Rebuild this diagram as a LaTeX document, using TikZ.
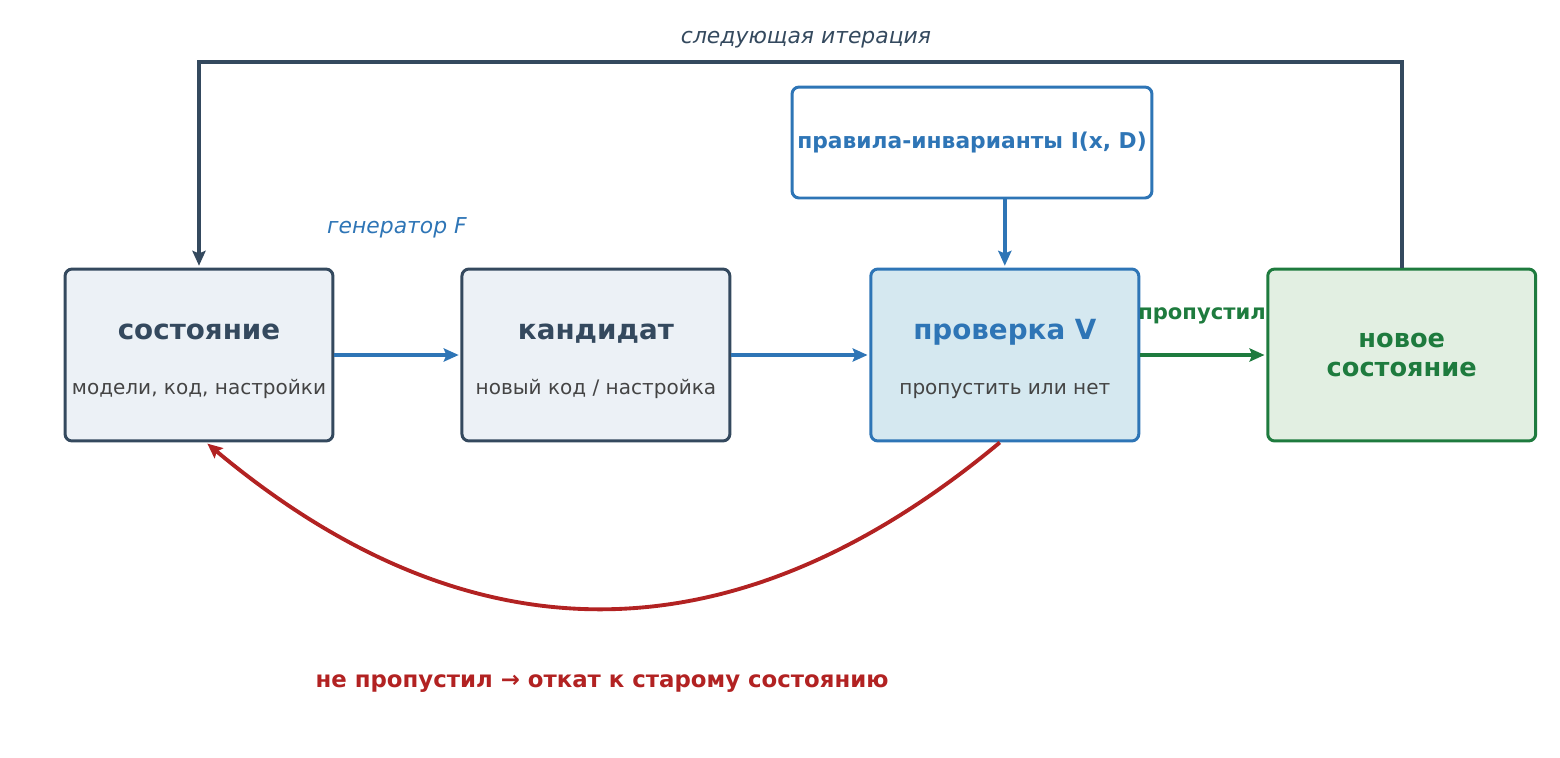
\documentclass[tikz,border=0pt]{standalone}
\usepackage{fontspec}
\setmainfont{DejaVu Sans}
\usetikzlibrary{positioning,arrows.meta}
\definecolor{slate}{HTML}{34495E}
\definecolor{steel}{HTML}{2E75B6}
\definecolor{leaf}{HTML}{1E7B3E}
\definecolor{brick}{HTML}{B22222}
\definecolor{paleslate}{HTML}{ECF1F6}
\definecolor{paleblue}{HTML}{D5E8F0}
\definecolor{palegreen}{HTML}{E2EFE2}
\definecolor{subgray}{HTML}{444444}
\newcommand\boxtext[2]{\rule{0pt}{16pt}{\bfseries\fontsize{15.8}{18}\selectfont #1}\\[19pt]{\color{subgray}\fontsize{11.4}{13}\selectfont #2}}

\begin{document}
\begin{tikzpicture}[
  x=0.02cm, y=-0.02cm,
  box/.style={draw, rounded corners=4pt, line width=1.7pt, minimum width=5.36cm, minimum height=3.44cm, align=center, inner sep=0pt},
  plain/.style={box, draw=slate, fill=paleslate, text=slate},
  check/.style={box, draw=steel, fill=paleblue, text=steel},
  fresh/.style={box, draw=leaf, fill=palegreen, text=leaf, font=\bfseries\fontsize{14.6}{16.6}\selectfont},
  rule/.style={box, draw=steel, fill=white, text=steel, minimum width=7.2cm, minimum height=2.22cm, font=\bfseries\fontsize{12.4}{14}\selectfont},
  lbl/.style={inner sep=0pt},
  arr/.style={-{Stealth[length=8.5pt, width=7.5pt, inset=1.5pt]}, line width=2pt, shorten >=1pt}
]
  \useasboundingbox (0,0) rectangle (1560,758);

  \node[plain] (state) at (199,355) {\boxtext{состояние}{модели, код, настройки}};
  \node[plain, right=2.52cm of state] (cand) {\boxtext{кандидат}{новый код / настройка}};
  \node[check, right=2.76cm of cand] (verify) {\boxtext{проверка V}{пропустить или нет}};
  \node[fresh, right=2.52cm of verify] (newstate) {новое\\состояние};
  \node[rule] (rules) at (972,142.5) {правила-инварианты I(x, D)};

  \node[lbl, text=steel, font=\itshape\fontsize{12.45}{14}\selectfont] (genlabel) at (397,228) {генератор F};
  \node[lbl, text=slate, font=\itshape\fontsize{12.45}{14}\selectfont] (iterlabel) at (806,40) {следующая итерация};
  \node[lbl, text=leaf, font=\bfseries\fontsize{12}{14}\selectfont] (passlabel) at (1202,316) {пропустил};
  \node[lbl, text=brick, font=\bfseries\fontsize{13}{15}\selectfont] (faillabel) at (602,684) {не пропустил → откат к старому состоянию};
  \coordinate (looptop) at (806,62);

  \draw[arr, steel] (state) -- (cand);
  \draw[arr, steel] (cand) -- (verify);
  \draw[arr, leaf] (verify) -- (newstate);
  \draw[arr, steel] (rules.south -| verify.north) -- (verify.north);
  \draw[arr, slate, line width=2.2pt] (newstate.north) |- (looptop) -| (state.north);
  \draw[arr, brick, line width=2.2pt] ([xshift=-0.1cm]verify.south) .. controls (735,663) and (471,664) .. ([xshift=0.14cm]state.south);
\end{tikzpicture}
\end{document}
